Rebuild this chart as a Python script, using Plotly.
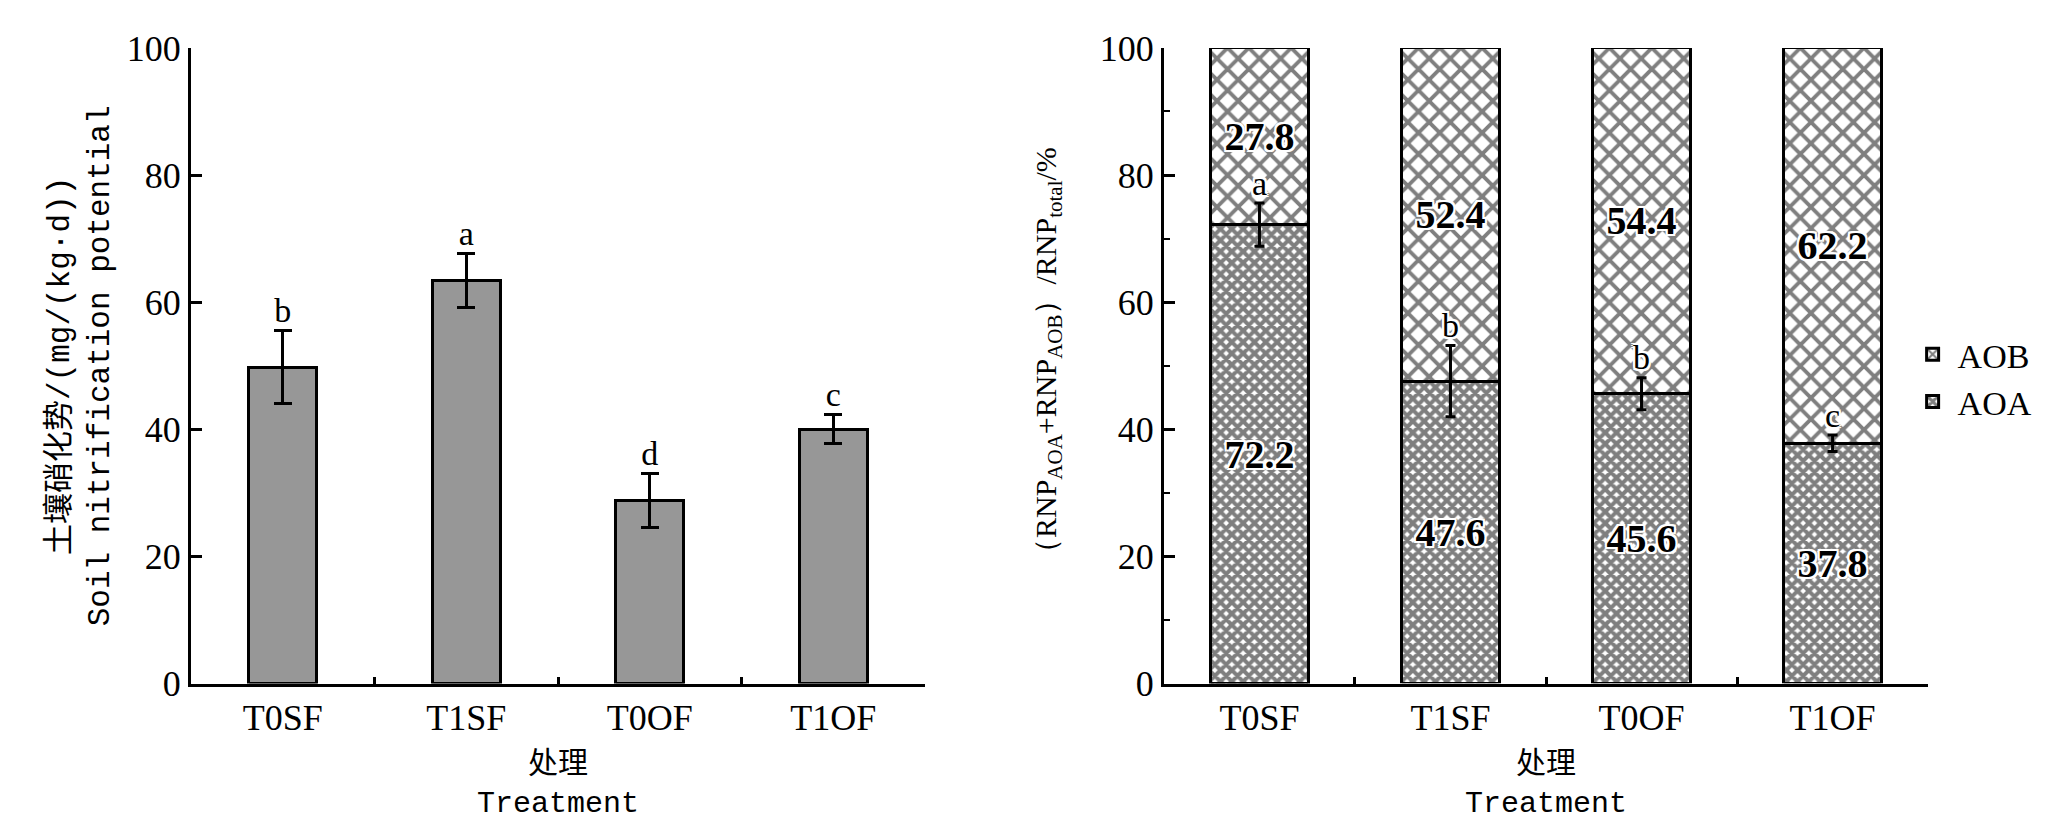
import plotly.graph_objects as go
from plotly.subplots import make_subplots

# Daten
treatments = ['T0SF', 'T1SF', 'T0OF', 'T1OF']

rnp = [49.8, 63.4, 28.8, 40.0]          # Soil nitrification potential
rnp_err = [5.7, 4.3, 4.3, 2.3]
rnp_sig = ['b', 'a', 'd', 'c']

aoa = [72.2, 47.6, 45.6, 37.8]          # AOA Anteil [%]
aoa_err = [3.4, 5.6, 2.5, 1.3]
aoa_sig = ['a', 'b', 'b', 'c']
aob = [27.8, 52.4, 54.4, 62.2]          # AOB Anteil [%]

SERIF = 'Liberation Serif'
CJK = 'Noto Sans CJK SC'
HALO = ('2px 2px 0 white, -2px -2px 0 white, 2px -2px 0 white, -2px 2px 0 white, '
        '0 2px 0 white, 0 -2px 0 white, 2px 0 0 white, -2px 0 0 white')

fig = make_subplots(rows=1, cols=2)

# linke Grafik
fig.add_trace(go.Bar(
    x=treatments, y=rnp, width=0.37, showlegend=False,
    marker=dict(color='#979797', line=dict(color='black', width=3)),
    error_y=dict(type='data', array=rnp_err, color='black', thickness=3, width=9),
), row=1, col=1)

fig.add_trace(go.Scatter(
    x=treatments, y=[v + e for v, e in zip(rnp, rnp_err)], text=rnp_sig,
    mode='text', textposition='top center', showlegend=False, cliponaxis=False,
    textfont=dict(family=SERIF, size=34, color='black'),
), row=1, col=1)

# rechte Grafik
fig.add_trace(go.Bar(
    x=treatments, y=aoa, width=0.51, name='AOA',
    text=[f'{v:.1f}' for v in aoa], textposition='inside', insidetextanchor='middle',
    textfont=dict(family=SERIF, size=40, color='black', weight='bold', shadow=HALO),
    marker=dict(color='white', line=dict(color='black', width=3),
                pattern=dict(shape='x', size=8, solidity=0.75, fgcolor='black', bgcolor='white')),
), row=1, col=2)

fig.add_trace(go.Bar(
    x=treatments, y=aob, width=0.51, name='AOB',
    text=[f'{v:.1f}' for v in aob], textposition='inside', insidetextanchor='middle',
    textfont=dict(family=SERIF, size=40, color='black', weight='bold', shadow=HALO),
    marker=dict(color='white', line=dict(color='black', width=3),
                pattern=dict(shape='x', size=15, solidity=0.45, fgcolor='black', bgcolor='white')),
), row=1, col=2)

# Fehlerbalken + Signifikanz über den gestapelten Balken
fig.add_trace(go.Scatter(
    x=treatments, y=aoa, mode='markers', showlegend=False, cliponaxis=False,
    marker=dict(size=1, color='rgba(0,0,0,0)'),
    error_y=dict(type='data', array=aoa_err, color='black', thickness=3, width=5),
), row=1, col=2)

fig.add_trace(go.Scatter(
    x=treatments, y=[v + e for v, e in zip(aoa, aoa_err)], text=aoa_sig,
    mode='text', textposition='top center', showlegend=False, cliponaxis=False,
    textfont=dict(family=SERIF, size=34, color='black', shadow=HALO),
), row=1, col=2)

fig.update_layout(
    width=2047, height=826,
    margin=dict(l=0, r=0, t=0, b=0),
    paper_bgcolor='white', plot_bgcolor='white',
    barmode='stack',
    font=dict(family=SERIF, color='black', size=36),
    legend=dict(x=0.928, y=0.62, xanchor='left', yanchor='top', traceorder='reversed',
                font=dict(family=SERIF, size=34), itemwidth=40, tracegroupgap=0,
                bgcolor='rgba(0,0,0,0)'),
)

xcommon = dict(type='category', showline=True, linecolor='black', linewidth=3,
               ticks='inside', tickson='boundaries', ticklen=7, tickwidth=3, tickcolor='black',
               showgrid=False, zeroline=False, tickfont=dict(family=SERIF, size=36),
               title=dict(text='<span style="font-family:Noto Sans CJK SC">处理</span><br>Treatment',
                          font=dict(family='Liberation Mono', size=30), standoff=0))
fig.update_xaxes(domain=[0.0894, 0.448], range=[-0.5, 3.5], row=1, col=1, **xcommon)
fig.update_xaxes(domain=[0.5647, 0.938], range=[-0.5, 3.5], row=1, col=2, **xcommon)

ycommon = dict(range=[0, 100], dtick=20, showline=True, linecolor='black', linewidth=3,
               ticks='inside', ticklen=11, tickwidth=3, tickcolor='black',
               showgrid=False, zeroline=False, tickfont=dict(family=SERIF, size=36))
fig.update_yaxes(domain=[0.1646, 0.9734], row=1, col=1, **ycommon)
fig.update_yaxes(domain=[0.1646, 0.9734], row=1, col=2,
                 minor=dict(ticks='inside', dtick=10, ticklen=6, tickwidth=2, tickcolor='black'),
                 **ycommon)

# Achsentitel y
fig.add_annotation(
    text='<span style="font-family:Noto Sans CJK SC">土壤硝化势</span>/(mg/(kg·d))<br>Soil nitrification potential',
    xref='paper', yref='paper', x=0.033, y=0.569, xanchor='center', yanchor='middle',
    textangle=-90, showarrow=False, font=dict(family='Liberation Mono', size=31, color='black'))

fig.add_annotation(
    text='（RNP<sub>AOA</sub>+RNP<sub>AOB</sub>）/RNP<sub>total</sub>/%',
    xref='paper', yref='paper', x=0.508, y=0.58, xanchor='center', yanchor='middle',
    textangle=-90, showarrow=False, font=dict(family=SERIF, size=30, color='black'))

fig.write_html('out.html')
